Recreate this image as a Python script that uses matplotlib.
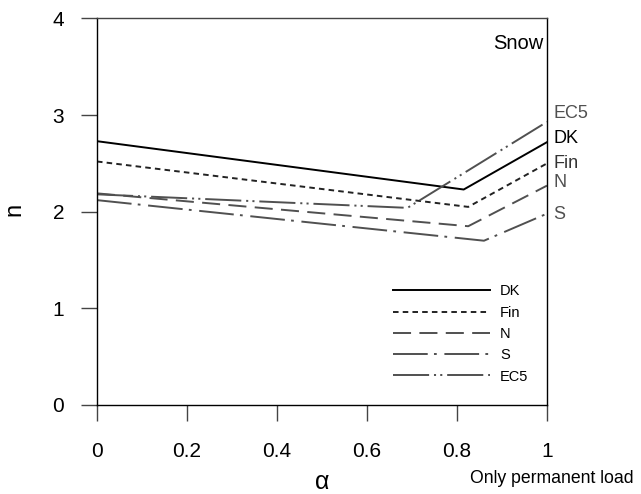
import matplotlib
matplotlib.use("Agg")
import matplotlib.pyplot as plt

plt.rcParams['font.family'] = ['Liberation Sans', 'DejaVu Sans']
plt.rcParams['lines.scale_dashes'] = False

# datos (alpha, n)
nombres = ['DK', 'Fin', 'N', 'S', 'EC5']
alpha_dk = [0, 0.815, 1]
n_dk = [2.73, 2.23, 2.72]
alpha_fin = [0, 0.825, 1]
n_fin = [2.52, 2.05, 2.50]
alpha_n = [0, 0.825, 1]
n_n = [2.19, 1.85, 2.27]
alpha_s = [0, 0.86, 1]
n_s = [2.12, 1.70, 1.98]
alpha_ec5 = [0, 0.69, 1]
n_ec5 = [2.18, 2.04, 2.93]

# posicion vertical de las etiquetas del lado derecho
etiqueta_y = {'EC5': 3.02, 'DK': 2.76, 'Fin': 2.50, 'N': 2.30, 'S': 1.97}

x_ticks = [0, 0.2, 0.4, 0.6, 0.8, 1]
x_ticklabels = ['0', '0.2', '0.4', '0.6', '0.8', '1']
y_ticks = [0, 1, 2, 3, 4]

gris = '#505050'
estilos = {
    'DK': dict(color='black', lw=1.4, ls='-'),
    'Fin': dict(color='#222222', lw=1.4, ls=(0, (4, 3))),
    'N': dict(color=gris, lw=1.4, ls=(0, (13, 6))),
    'S': dict(color=gris, lw=1.4, ls=(0, (25, 4.5, 2, 5.5))),
    'EC5': dict(color=gris, lw=1.4, ls=(0, (26, 3.5, 1.5, 3, 1.5, 3.5))),
}
colores_etiqueta = {'EC5': gris, 'DK': 'black', 'Fin': '#333333', 'N': gris, 'S': gris}

series = {
    'DK': (alpha_dk, n_dk),
    'Fin': (alpha_fin, n_fin),
    'N': (alpha_n, n_n),
    'S': (alpha_s, n_s),
    'EC5': (alpha_ec5, n_ec5),
}

fig = plt.figure(figsize=(6.41, 4.94), dpi=100)
ax = fig.add_axes([0.1513, 0.1802, 0.702, 0.7824])

for nombre in nombres:
    xs, ys = series[nombre]
    ax.plot(xs, ys, label=nombre, **estilos[nombre])

for nombre in ['EC5', 'DK', 'Fin', 'N', 'S']:
    ax.annotate(nombre, xy=(1, etiqueta_y[nombre]), xytext=(4.5, 0),
                textcoords='offset points', ha='left', va='center',
                fontsize=13, color=colores_etiqueta[nombre], annotation_clip=False)

ax.set_xlim(0, 1)
ax.set_ylim(0, 4)
ax.set_xticks(x_ticks)
ax.set_xticklabels(x_ticklabels)
ax.set_yticks(y_ticks)
ax.tick_params(axis='x', direction='out', length=11.5, width=1, color='#444444',
               pad=15, labelsize=15)
ax.tick_params(axis='y', direction='out', length=11.5, width=1, color='#444444',
               pad=12, labelsize=15)

for lado in ['left', 'right', 'bottom']:
    ax.spines[lado].set_color('black')
    ax.spines[lado].set_linewidth(1)
ax.spines['top'].set_color('#444444')
ax.spines['top'].set_linewidth(1)

ax.set_xlabel('α', fontsize=18)
ax.xaxis.set_label_coords(0.5, -0.168)
ax.set_ylabel('n', fontsize=17)
ax.yaxis.set_label_coords(-0.16, 0.505)

ax.text(0.993, 0.934, 'Snow', transform=ax.transAxes, ha='right', va='center', fontsize=14.5)
fig.text(470 / 641, 1 - 478 / 494, 'Only permanent load', ha='left', va='center', fontsize=12.7)

ax.legend(loc='upper left', bbox_to_anchor=(0.658, 0.312), frameon=False,
          fontsize=10.5, handlelength=6.65, handletextpad=0.68, labelspacing=0.5,
          borderpad=0, borderaxespad=0)

fig.savefig('out.png', dpi=100)
